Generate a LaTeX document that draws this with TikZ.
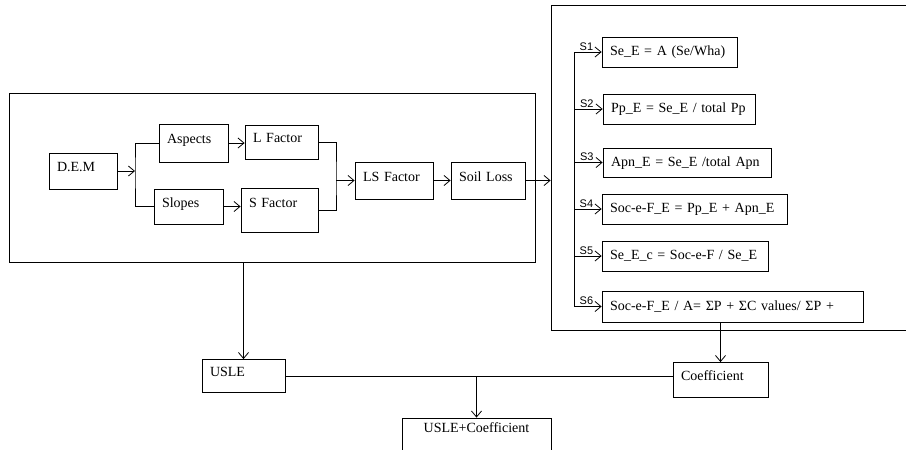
\documentclass[tikz,border=0pt]{standalone}
\usepackage{fontspec}
\setmainfont{Liberation Serif}
\newfontfamily\labfont{Liberation Sans}
\usetikzlibrary{arrows.meta}
\tikzstyle{block}=[rectangle,draw,line width=0.8pt,inner ysep=0pt,inner xsep=8pt,align=left,font=\fontsize{14}{16}\selectfont,text height=10pt,text depth=9pt]
\tikzstyle{eqn}=[text depth=3pt]
\tikzstyle{frame}=[rectangle,draw,line width=0.8pt,inner sep=0pt]
\tikzstyle{wire}=[line width=0.8pt]
\tikzstyle{link}=[line width=0.8pt,-{Straight Barb[length=6pt,width=10pt]}]
\tikzstyle{step label}=[above,pos=0.45,inner sep=1pt,font=\labfont\fontsize{11}{12}\selectfont]
\newcommand{\blk}{\node[block]}
\begin{document}
\begin{tikzpicture}[x=1pt,y=-1pt]
		\useasboundingbox (0,0) rectangle (906,450);
		% % % % % % % % % % % % % % % % % % % % % % % % % % % % % 
		%*********************
		\node[frame,minimum width=526pt,minimum height=169pt] (frameL) at (272,177.5) {};
		\node[frame,minimum width=369pt,minimum height=325pt] (frameR) at (735.5,167.5) {};
		%*********************
		\blk [text width=52pt,minimum height=36pt] (dem) at (83,171) {D.E.M};
		\blk [text width=53pt,minimum height=38pt] (asp) at (193.5,143) {Aspects};
		\blk [text width=57pt,minimum height=34pt] (lfac) at (281.5,142) {L Factor};
		\blk [text width=53pt,minimum height=35pt] (slo) at (188.5,206.5) {Slopes};
		\blk [text width=61pt,minimum height=44pt,text depth=15pt] (sfac) at (279.5,210) {S Factor};
		\blk [text width=62pt,minimum height=37pt] (lsfac) at (394,180.5) {LS Factor};
		\blk [text width=58pt,minimum height=37pt] (soil) at (488,180.5) {Soil Loss};
		%*********************
		\blk [eqn,text width=119pt,minimum height=30pt] (s1) at (669.5,52) {Se\_E = A (Se/Wha)};
		\blk [eqn,text width=136pt,minimum height=30pt] (s2) at (679,109) {Pp\_E = Se\_E / total Pp};
		\blk [eqn,text width=152pt,minimum height=29pt] (s3) at (687,162.5) {Apn\_E = Se\_E /total Apn};
		\blk [eqn,text width=169pt,minimum height=30pt] (s4) at (694.5,209) {Soc-e-F\_E = Pp\_E + Apn\_E};
		\blk [eqn,text width=150pt,minimum height=30pt] (s5) at (685,256) {Se\_E\_c = Soc-e-F / Se\_E};
		\blk [eqn,text width=245pt,minimum height=31pt] (s6) at (732.5,306.5) {Soc-e-F\_E / A= ΣP + ΣC values/ ΣP +};
		%*********************
		\blk [text width=67pt,minimum height=33pt] (usle) at (243.5,376) {USLE};
		\blk [text width=79pt,minimum height=35pt] (coef) at (720.5,380) {Coefficient};
		\blk [text width=133pt,align=center,minimum height=42pt,text depth=23pt] (both) at (476.5,439) {USLE+Coefficient};
		%*********************
		\coordinate (j1) at (135,171);
		\coordinate (j2) at (336,180.5);
		\coordinate (bus) at (574,52);
		%*********************
		\draw[wire] (asp.west) -| (j1) |- (slo.west);
		\draw[wire] (lfac.east) -| (j2) |- (sfac.east);
		\draw[wire] (bus |- s1.west) -- (bus |- s6.west);
		\draw[wire] (usle.east) -- (usle.east -| coef.west);
		
		\path
		% % % % % % % % % % % % % % % % %
		%**************
		(dem.east) edge [link] (j1)
		(asp.east) edge [link] (asp.east -| lfac.west)
		(slo.east) edge [link] (slo.east -| sfac.west)
		(j2) edge [link] (lsfac.west)
		(lsfac.east) edge [link] (soil.west)
		(soil.east) edge [link] (soil.east -| frameR.west)
		%**************
		(bus |- s1.west) edge [link] node[step label] {S1} (s1.west)
		(bus |- s2.west) edge [link] node[step label] {S2} (s2.west)
		(bus |- s3.west) edge [link] node[step label] {S3} (s3.west)
		(bus |- s4.west) edge [link] node[step label] {S4} (s4.west)
		(bus |- s5.west) edge [link] node[step label] {S5} (s5.west)
		(bus |- s6.west) edge [link] node[step label] {S6} (s6.west)
		%**************
		(usle.north |- frameL.south) edge [link] (usle.north)
		(coef.north |- s6.south) edge [link] (coef.north)
		(both.north |- usle.east) edge [link] (both.north)
		%********************
		;
\end{tikzpicture}
\end{document}
